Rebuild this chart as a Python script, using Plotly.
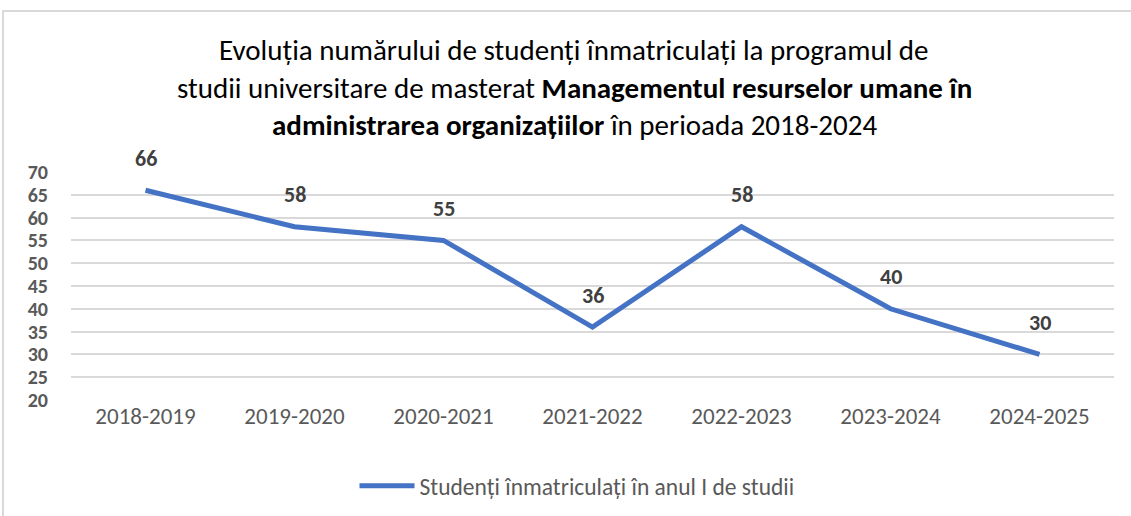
import plotly.graph_objects as go

categories = ["2018-2019", "2019-2020", "2020-2021", "2021-2022", "2022-2023", "2023-2024", "2024-2025"]
students = [66, 58, 55, 36, 58, 40, 30]
series_name = "Studenți înmatriculați în anul I de studii"
title_lines = [
    "Evoluția numărului de studenți înmatriculați la programul de",
    "studii universitare de masterat <b>Managementul resurselor umane în</b>",
    "<b>administrarea organizațiilor</b> în perioada 2018-2024",
]
y_ticks = list(range(20, 75, 5))

FONT = "Carlito, Lato, sans-serif"
W, H = 1131, 516
PL, PR, PT, PB = 71, 1114, 172, 400
L, T, R, B = PL, PT, W - PR, H - PB
pw, ph = PR - PL, PB - PT


def px_x(x):
    return (x - PL) / pw


def px_y(y):
    return (PB - y) / ph


fig = go.Figure()
fig.add_trace(go.Scatter(
    x=categories, y=students, mode="lines", name=series_name,
    line=dict(color="#4472c4", width=5), showlegend=True,
))

for c, v in zip(categories, students):
    fig.add_annotation(x=c, y=v, text=f"<b>{v}</b>", showarrow=False,
                       yshift=32, font=dict(family=FONT, size=22, color="#404040"))

title_px = [50, 88, 125]
for line, py in zip(title_lines, title_px):
    fig.add_annotation(xref="paper", yref="paper", x=px_x(574), y=px_y(py),
                       text=line, showarrow=False, xanchor="center", yanchor="middle",
                       font=dict(family=FONT, size=29, color="#000000"))

# chart border
fig.add_shape(type="rect", xref="paper", yref="paper",
              x0=px_x(3), x1=px_x(W + 20), y0=px_y(H + 20), y1=px_y(11),
              line=dict(color="#d9d9d9", width=2), layer="below")

fig.update_layout(
    width=W, height=H,
    margin=dict(l=L, r=R, t=T, b=B, autoexpand=False),
    paper_bgcolor="white", plot_bgcolor="white",
    font=dict(family=FONT, color="#595959"),
    legend=dict(orientation="h", x=px_x(577), xanchor="center", y=px_y(486), yanchor="middle",
                font=dict(family=FONT, size=23.5, color="#595959"), itemwidth=55),
    xaxis=dict(type="category", range=[-0.5, len(categories) - 0.5], showgrid=False,
               showline=False, ticks="", tickfont=dict(family=FONT, size=23, color="#595959")),
    yaxis=dict(range=[20, 70], tickvals=y_ticks, ticktext=[f"<b>{t}</b>" for t in y_ticks],
               showgrid=True, gridcolor="#d9d9d9", gridwidth=1.5, zeroline=False,
               showline=False, ticks="", ticklabelstandoff=22,
               tickfont=dict(family=FONT, size=20, color="#595959")),
)

fig.write_html("out.html", post_script="document.body.style.margin='0px';",
               config={"displayModeBar": False})
